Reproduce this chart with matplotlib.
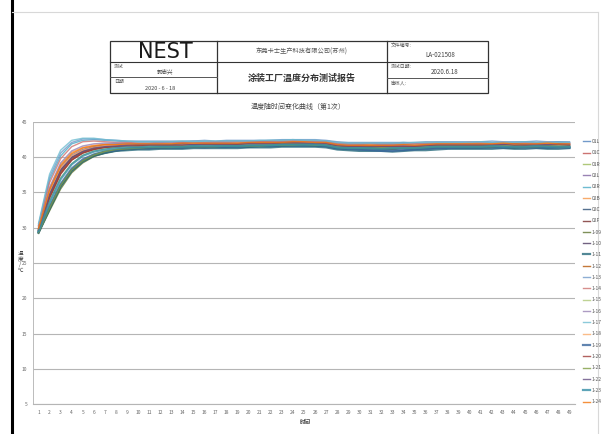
import matplotlib
matplotlib.use("Agg")
from matplotlib import pyplot as plt
from matplotlib.lines import Line2D
from matplotlib.patches import Rectangle

plt.rcParams['font.family'] = ['Noto Sans CJK SC', 'DejaVu Sans']

# time points (categories on the x axis)
times = list(range(1, 50))

# temperature series, one per probe
s01 = [29.9, 35.2, 38.6, 40.3, 41.1, 41.5, 41.8, 41.9, 42.0, 42.0,
       42.0, 42.1, 42.0, 42.1, 42.1, 42.0, 42.1, 42.1, 42.2, 42.1,
       42.2, 42.2, 42.2, 42.3, 42.3, 42.2, 42.2, 41.9, 41.9, 41.8,
       41.9, 41.8, 41.9, 41.9, 41.8, 41.9, 42.0, 42.0, 41.9, 42.0,
       42.0, 42.0, 42.0, 41.9, 42.0, 42.0, 42.0, 42.1, 42.0]
s02 = [29.7, 34.6, 38.0, 39.9, 40.8, 41.3, 41.5, 41.6, 41.7, 41.8,
       41.8, 41.8, 41.9, 41.8, 41.9, 41.9, 41.8, 41.9, 41.9, 42.0,
       42.0, 42.0, 42.1, 42.1, 42.0, 42.1, 42.0, 41.7, 41.6, 41.6,
       41.7, 41.6, 41.5, 41.6, 41.6, 41.7, 41.8, 41.8, 41.8, 41.8,
       41.9, 41.8, 41.8, 41.8, 41.9, 41.8, 41.8, 41.8, 41.8]
s03 = [29.4, 32.9, 36.1, 38.3, 39.6, 40.4, 40.9, 41.1, 41.3, 41.4,
       41.4, 41.5, 41.5, 41.5, 41.6, 41.5, 41.6, 41.6, 41.6, 41.6,
       41.7, 41.7, 41.7, 41.8, 41.8, 41.7, 41.7, 41.4, 41.4, 41.3,
       41.3, 41.4, 41.3, 41.3, 41.4, 41.4, 41.5, 41.5, 41.5, 41.5,
       41.6, 41.5, 41.5, 41.5, 41.6, 41.5, 41.5, 41.6, 41.5]
s04 = [29.8, 35.0, 38.4, 40.1, 41.0, 41.4, 41.6, 41.7, 41.8, 41.8,
       41.9, 41.9, 41.9, 42.0, 41.9, 42.0, 42.0, 42.0, 42.0, 42.1,
       42.1, 42.1, 42.1, 42.2, 42.2, 42.1, 42.1, 41.8, 41.7, 41.7,
       41.8, 41.7, 41.7, 41.8, 41.7, 41.8, 41.9, 41.9, 41.9, 41.9,
       41.9, 42.0, 41.9, 41.9, 41.9, 42.0, 41.9, 41.9, 42.0]
s05 = [30.3, 36.8, 40.2, 41.9, 42.4, 42.5, 42.4, 42.3, 42.2, 42.2,
       42.2, 42.2, 42.2, 42.2, 42.3, 42.2, 42.2, 42.3, 42.3, 42.3,
       42.3, 42.4, 42.4, 42.5, 42.4, 42.4, 42.3, 42.1, 42.0, 42.0,
       42.0, 42.0, 42.0, 42.1, 42.0, 42.0, 42.1, 42.1, 42.1, 42.1,
       42.2, 42.1, 42.1, 42.1, 42.2, 42.1, 42.1, 42.2, 42.1]
s06 = [30.0, 35.6, 39.0, 40.7, 41.4, 41.7, 41.8, 41.8, 41.9, 41.9,
       41.9, 41.9, 42.0, 41.9, 42.0, 42.0, 42.0, 42.0, 42.1, 42.0,
       42.1, 42.1, 42.2, 42.2, 42.1, 42.2, 42.1, 41.8, 41.8, 41.7,
       41.8, 41.7, 41.8, 41.8, 41.8, 41.8, 41.9, 41.9, 41.9, 42.0,
       41.9, 41.9, 42.0, 41.9, 41.9, 42.0, 41.9, 42.0, 41.9]
s07 = [29.3, 32.6, 35.8, 38.0, 39.4, 40.2, 40.6, 40.9, 41.1, 41.2,
       41.2, 41.3, 41.3, 41.3, 41.4, 41.4, 41.4, 41.4, 41.5, 41.4,
       41.5, 41.5, 41.6, 41.6, 41.6, 41.6, 41.5, 41.2, 41.1, 41.1,
       41.0, 41.1, 41.1, 41.0, 41.1, 41.2, 41.3, 41.3, 41.3, 41.3,
       41.3, 41.4, 41.3, 41.3, 41.4, 41.3, 41.3, 41.4, 41.3]
s08 = [29.6, 34.3, 37.7, 39.6, 40.6, 41.1, 41.4, 41.5, 41.6, 41.6,
       41.7, 41.7, 41.7, 41.8, 41.7, 41.8, 41.8, 41.8, 41.8, 41.9,
       41.9, 41.9, 42.0, 42.0, 42.0, 41.9, 41.9, 41.6, 41.5, 41.5,
       41.5, 41.4, 41.5, 41.5, 41.5, 41.6, 41.7, 41.7, 41.7, 41.7,
       41.7, 41.7, 41.8, 41.7, 41.7, 41.7, 41.8, 41.7, 41.7]
s09 = [29.2, 32.4, 35.5, 37.8, 39.2, 40.1, 40.6, 40.9, 41.1, 41.2,
       41.3, 41.3, 41.4, 41.4, 41.4, 41.4, 41.5, 41.5, 41.5, 41.5,
       41.6, 41.6, 41.6, 41.7, 41.7, 41.6, 41.6, 41.3, 41.3, 41.2,
       41.2, 41.2, 41.2, 41.3, 41.2, 41.3, 41.4, 41.4, 41.4, 41.4,
       41.4, 41.5, 41.4, 41.4, 41.4, 41.5, 41.4, 41.4, 41.5]
s10 = [29.7, 34.8, 38.2, 40.0, 40.9, 41.3, 41.5, 41.6, 41.7, 41.7,
       41.8, 41.8, 41.8, 41.9, 41.9, 41.8, 41.9, 41.9, 41.9, 42.0,
       42.0, 42.0, 42.0, 42.1, 42.1, 42.0, 42.0, 41.7, 41.6, 41.6,
       41.6, 41.6, 41.6, 41.7, 41.6, 41.7, 41.8, 41.8, 41.8, 41.8,
       41.8, 41.8, 41.9, 41.8, 41.8, 41.9, 41.8, 41.8, 41.8]
s11 = [29.3, 32.7, 35.9, 38.1, 39.4, 40.2, 40.6, 40.9, 41.0, 41.1,
       41.1, 41.2, 41.2, 41.2, 41.3, 41.3, 41.3, 41.3, 41.3, 41.4,
       41.4, 41.4, 41.5, 41.5, 41.5, 41.5, 41.4, 41.1, 41.0, 40.9,
       40.9, 40.9, 40.8, 40.9, 41.0, 41.0, 41.1, 41.2, 41.2, 41.2,
       41.2, 41.2, 41.3, 41.2, 41.2, 41.3, 41.2, 41.2, 41.3]
s12 = [29.7, 34.5, 37.9, 39.8, 40.7, 41.2, 41.4, 41.5, 41.6, 41.7,
       41.7, 41.7, 41.8, 41.7, 41.8, 41.8, 41.8, 41.8, 41.9, 41.8,
       41.9, 41.9, 41.9, 42.0, 42.0, 41.9, 41.9, 41.6, 41.5, 41.5,
       41.5, 41.5, 41.5, 41.5, 41.5, 41.6, 41.7, 41.7, 41.7, 41.7,
       41.7, 41.7, 41.7, 41.8, 41.7, 41.7, 41.7, 41.8, 41.7]
s13 = [30.4, 37.2, 40.6, 42.1, 42.6, 42.6, 42.5, 42.4, 42.3, 42.3,
       42.3, 42.3, 42.3, 42.3, 42.3, 42.4, 42.3, 42.4, 42.4, 42.4,
       42.4, 42.4, 42.5, 42.5, 42.5, 42.5, 42.4, 42.2, 42.1, 42.1,
       42.1, 42.1, 42.1, 42.1, 42.1, 42.2, 42.2, 42.2, 42.2, 42.2,
       42.2, 42.3, 42.2, 42.2, 42.2, 42.3, 42.2, 42.2, 42.2]
s14 = [30.2, 36.4, 39.8, 41.5, 42.2, 42.3, 42.2, 42.1, 42.1, 42.0,
       42.0, 42.1, 42.1, 42.1, 42.1, 42.1, 42.2, 42.2, 42.2, 42.2,
       42.2, 42.3, 42.3, 42.3, 42.3, 42.3, 42.2, 42.0, 41.9, 41.9,
       41.9, 41.9, 41.9, 41.9, 41.9, 42.0, 42.0, 42.0, 42.0, 42.1,
       42.0, 42.0, 42.1, 42.0, 42.0, 42.0, 42.1, 42.0, 42.0]
s15 = [29.5, 33.8, 37.1, 39.1, 40.3, 40.9, 41.2, 41.4, 41.5, 41.5,
       41.6, 41.6, 41.6, 41.6, 41.7, 41.7, 41.7, 41.7, 41.7, 41.8,
       41.8, 41.8, 41.9, 41.9, 41.9, 41.8, 41.8, 41.5, 41.4, 41.4,
       41.4, 41.4, 41.4, 41.4, 41.4, 41.5, 41.6, 41.6, 41.6, 41.6,
       41.6, 41.6, 41.6, 41.7, 41.6, 41.6, 41.6, 41.7, 41.6]
s16 = [29.9, 35.7, 39.2, 40.9, 41.6, 41.9, 42.0, 42.0, 41.9, 41.9,
       41.9, 42.0, 42.0, 42.0, 42.0, 42.0, 42.1, 42.1, 42.1, 42.1,
       42.1, 42.1, 42.2, 42.2, 42.2, 42.2, 42.1, 41.8, 41.8, 41.7,
       41.7, 41.8, 41.8, 41.7, 41.8, 41.8, 41.9, 41.9, 41.9, 41.9,
       41.9, 42.0, 41.9, 41.9, 42.0, 41.9, 41.9, 41.9, 42.0]
s17 = [30.6, 37.6, 41.0, 42.4, 42.7, 42.7, 42.5, 42.4, 42.3, 42.2,
       42.2, 42.2, 42.2, 42.3, 42.2, 42.3, 42.3, 42.3, 42.3, 42.3,
       42.4, 42.4, 42.4, 42.5, 42.4, 42.4, 42.3, 42.1, 42.0, 42.0,
       42.0, 42.0, 42.0, 42.0, 42.1, 42.1, 42.1, 42.1, 42.1, 42.1,
       42.2, 42.1, 42.1, 42.1, 42.2, 42.1, 42.1, 42.1, 42.1]
s18 = [29.8, 35.1, 38.5, 40.2, 41.0, 41.4, 41.6, 41.7, 41.7, 41.8,
       41.8, 41.8, 41.9, 41.8, 41.9, 41.9, 41.9, 41.9, 42.0, 41.9,
       42.0, 42.0, 42.1, 42.1, 42.1, 42.0, 42.0, 41.7, 41.6, 41.6,
       41.7, 41.6, 41.6, 41.6, 41.7, 41.7, 41.8, 41.8, 41.8, 41.8,
       41.8, 41.9, 41.8, 41.8, 41.8, 41.8, 41.9, 41.8, 41.8]
s19 = [29.4, 33.0, 36.2, 38.4, 39.7, 40.4, 40.8, 41.0, 41.2, 41.3,
       41.3, 41.4, 41.4, 41.4, 41.5, 41.4, 41.5, 41.5, 41.5, 41.6,
       41.6, 41.6, 41.7, 41.7, 41.7, 41.7, 41.6, 41.3, 41.2, 41.1,
       41.0, 40.9, 40.9, 41.0, 41.1, 41.2, 41.3, 41.3, 41.4, 41.4,
       41.4, 41.4, 41.4, 41.5, 41.4, 41.4, 41.4, 41.4, 41.4]
s20 = [29.6, 34.2, 37.6, 39.6, 40.6, 41.1, 41.4, 41.5, 41.6, 41.6,
       41.7, 41.7, 41.7, 41.7, 41.8, 41.8, 41.8, 41.8, 41.8, 41.9,
       41.9, 41.9, 42.0, 42.0, 42.0, 41.9, 41.9, 41.6, 41.5, 41.5,
       41.4, 41.5, 41.5, 41.5, 41.5, 41.6, 41.7, 41.7, 41.7, 41.7,
       41.7, 41.7, 41.8, 41.7, 41.7, 41.7, 41.7, 41.8, 41.7]
s21 = [29.3, 32.8, 36.0, 38.2, 39.5, 40.3, 40.8, 41.1, 41.2, 41.3,
       41.4, 41.4, 41.4, 41.5, 41.5, 41.5, 41.5, 41.6, 41.6, 41.6,
       41.6, 41.7, 41.7, 41.7, 41.8, 41.7, 41.7, 41.4, 41.3, 41.3,
       41.3, 41.3, 41.3, 41.3, 41.3, 41.4, 41.5, 41.5, 41.5, 41.5,
       41.5, 41.5, 41.6, 41.5, 41.5, 41.5, 41.6, 41.5, 41.5]
s22 = [29.7, 34.7, 38.1, 39.9, 40.8, 41.3, 41.5, 41.6, 41.7, 41.8,
       41.8, 41.8, 41.8, 41.9, 41.8, 41.9, 41.9, 41.9, 41.9, 42.0,
       42.0, 42.0, 42.1, 42.1, 42.0, 42.0, 42.0, 41.7, 41.6, 41.6,
       41.6, 41.6, 41.6, 41.6, 41.6, 41.7, 41.8, 41.8, 41.8, 41.8,
       41.8, 41.8, 41.8, 41.9, 41.8, 41.8, 41.8, 41.9, 41.8]
s23 = [29.5, 33.6, 36.9, 39.0, 40.2, 40.8, 41.1, 41.3, 41.4, 41.4,
       41.5, 41.5, 41.5, 41.5, 41.6, 41.6, 41.6, 41.6, 41.6, 41.7,
       41.7, 41.7, 41.8, 41.8, 41.8, 41.8, 41.7, 41.4, 41.3, 41.3,
       41.3, 41.2, 41.3, 41.3, 41.3, 41.4, 41.5, 41.5, 41.5, 41.5,
       41.5, 41.6, 41.5, 41.5, 41.5, 41.6, 41.5, 41.5, 41.5]
s24 = [29.9, 35.4, 38.8, 40.5, 41.3, 41.6, 41.8, 41.8, 41.9, 41.9,
       41.9, 41.9, 41.9, 42.0, 42.0, 42.0, 42.0, 42.0, 42.0, 42.1,
       42.1, 42.1, 42.1, 42.2, 42.2, 42.1, 42.1, 41.8, 41.7, 41.7,
       41.7, 41.7, 41.7, 41.8, 41.7, 41.8, 41.9, 41.9, 41.9, 41.9,
       41.9, 41.9, 42.0, 41.9, 41.9, 41.9, 42.0, 41.9, 41.9]

series = [s01, s02, s03, s04, s05, s06, s07, s08, s09, s10, s11, s12,
          s13, s14, s15, s16, s17, s18, s19, s20, s21, s22, s23, s24]

labels = ["01L", "01C", "01R", "02L", "02R", "02B", "02C", "02F",
          "1-09", "1-10", "1-11", "1-12", "1-13", "1-14", "1-15", "1-16",
          "1-17", "1-18", "1-19", "1-20", "1-21", "1-22", "1-23", "1-24"]

colors = ['#4F81BD', '#C0504D', '#9BBB59', '#8064A2', '#4BACC6', '#F79646',
          '#2C4D75', '#772C2A', '#5F7530', '#4D3B62', '#276A7C', '#B65708',
          '#729ACA', '#CD7371', '#AFC97A', '#9983B5', '#6FBDD1', '#F9AB6B',
          '#3A679C', '#9F3B38', '#7E9D40', '#664F83', '#358EA6', '#F3740B']

W, H = 608, 434


def fx(x):
    return x / W


def fy(y):
    return 1 - y / H


fig = plt.figure(figsize=(6.08, 4.34), dpi=100)
fig.patch.set_facecolor('white')

# page border (scan)
fig.add_artist(Line2D([fx(12), fx(12)], [fy(0), fy(434)], color='black', lw=2.2))
fig.add_artist(Line2D([fx(12), fx(598)], [fy(12), fy(12)], color='#d8d8d8', lw=0.8))
fig.add_artist(Line2D([fx(598), fx(598)], [fy(12), fy(434)], color='#d8d8d8', lw=0.8))

# header table
tl, tr, tt, tb = 110, 488, 41, 93
fig.add_artist(Rectangle((fx(tl), fy(tb)), fx(tr) - fx(tl), fy(tt) - fy(tb),
                         fill=False, ec='#333333', lw=0.9))
for xv in (217, 387):
    fig.add_artist(Line2D([fx(xv), fx(xv)], [fy(tt), fy(tb)], color='#333333', lw=0.9))
fig.add_artist(Line2D([fx(tl), fx(tr)], [fy(62), fy(62)], color='#333333', lw=0.8))
fig.add_artist(Line2D([fx(tl), fx(217)], [fy(77), fy(77)], color='#555555', lw=0.7))
fig.add_artist(Line2D([fx(387), fx(tr)], [fy(78), fy(78)], color='#555555', lw=0.7))

fig.text(fx(165), fy(52), "NEST", fontsize=15, family='DejaVu Sans',
         ha='center', va='center', color='#1a1a1a')
fig.text(fx(114), fy(66), "测试", fontsize=3.5, color='#555555', ha='left', va='center')
fig.text(fx(165), fy(71), "郭志兴", fontsize=4, color='#444444', ha='center', va='center')
fig.text(fx(114), fy(81), "日期", fontsize=3.5, color='#555555', ha='left', va='center')
fig.text(fx(160), fy(88), "2020 - 6 - 18", fontsize=4, color='#444444', ha='center', va='center')
fig.text(fx(302), fy(52), "东莞卡士生产科技有限公司(苏州)", fontsize=4.5, color='#555555',
         ha='center', va='center')
fig.text(fx(302), fy(78), "涂装工厂温度分布测试报告", fontsize=6.5, fontweight='bold',
         color='#333333', ha='center', va='center')
fig.text(fx(391), fy(45), "文件编号:", fontsize=3.5, color='#555555', ha='left', va='center')
fig.text(fx(440), fy(55), "LA-021508", fontsize=4.5, color='#444444', ha='center', va='center')
fig.text(fx(391), fy(66), "测试日期:", fontsize=3.5, color='#555555', ha='left', va='center')
fig.text(fx(445), fy(72), "2020.6.18", fontsize=4.5, color='#444444', ha='center', va='center')
fig.text(fx(391), fy(83), "审核人:", fontsize=3.5, color='#555555', ha='left', va='center')

# chart title
fig.text(fx(298), fy(107), "温度随时间变化曲线（第1次）", fontsize=5, color='#444444',
         ha='center', va='center')

# chart
ax = fig.add_axes([fx(33), fy(404), fx(575) - fx(33), fy(122) - fy(404)])
for vals, lab, col in zip(series, labels, colors):
    lw = 1.6 if col in ('#276A7C', '#3A679C', '#358EA6') else 1.0
    ax.plot(times, vals, color=col, lw=lw, alpha=0.8, label=lab)

ax.set_xlim(0.5, len(times) + 0.5)
ax.set_ylim(5, 45)
ax.set_yticks(range(5, 50, 5))
ax.set_xticks(times)
ax.set_xticklabels([str(t) for t in times])
ax.grid(axis='y', color='#b5b5b5', lw=0.8)
ax.set_axisbelow(True)
ax.tick_params(axis='both', labelsize=3.5, colors='#666666', length=0, pad=4)
for side in ('top', 'right'):
    ax.spines[side].set_visible(False)
ax.spines['left'].set_color('#bbbbbb')
ax.spines['bottom'].set_color('#b5b5b5')
ax.spines['left'].set_linewidth(0.7)
ax.spines['bottom'].set_linewidth(0.8)

fig.text(fx(20), fy(262), "温\n度\n/\n℃", fontsize=4, color='#444444',
         ha='center', va='center', linespacing=1.1)
fig.text(fx(305), fy(422), "时间", fontsize=4, fontweight='bold', color='#444444',
         ha='center', va='center')

leg = fig.legend(loc='upper left', bbox_to_anchor=(fx(583), fy(139)), frameon=False,
                 fontsize=3.5, labelspacing=1.3, handlelength=1.4, handletextpad=0.4,
                 borderaxespad=0, borderpad=0)
for t in leg.get_texts():
    t.set_color('#555555')

fig.savefig("out.png", dpi=100)
